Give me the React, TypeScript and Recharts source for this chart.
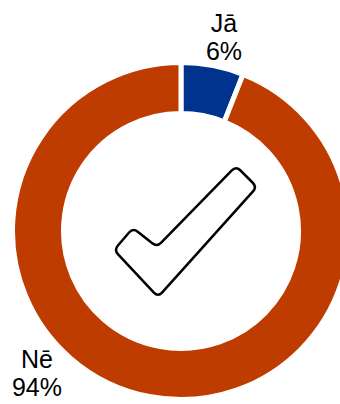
import { Cell, Customized, Pie, PieChart } from "recharts";

const answers = ["Jā", "Nē"];
const shares = [6, 94];
const sliceColors = ["#00338D", "#BF3C00"];

const data = answers.map((name, i) => ({ name, value: shares[i] }));

// label anchor offsets from the pie centre (first baseline)
const labelOffsets: Record<string, [number, number]> = {
  "Jā": [43, -199],
  "Nē": [-144, 137],
};

// checkmark outline, relative to the pie centre
const checkPoints: [number, number][] = [
  [55, -65],
  [76, -44],
  [-23, 66],
  [-67, 19],
  [-48, -3],
  [-24, 16],
];

function roundedPath(pts: [number, number][], r: number) {
  const n = pts.length;
  let d = "";
  for (let i = 0; i < n; i++) {
    const p = pts[i];
    const prev = pts[(i - 1 + n) % n];
    const next = pts[(i + 1) % n];
    const v1 = [prev[0] - p[0], prev[1] - p[1]];
    const v2 = [next[0] - p[0], next[1] - p[1]];
    const l1 = Math.hypot(v1[0], v1[1]);
    const l2 = Math.hypot(v2[0], v2[1]);
    const a = [p[0] + (v1[0] / l1) * r, p[1] + (v1[1] / l1) * r];
    const b = [p[0] + (v2[0] / l2) * r, p[1] + (v2[1] / l2) * r];
    d += `${i === 0 ? "M" : "L"}${a[0]},${a[1]} Q${p[0]},${p[1]} ${b[0]},${b[1]} `;
  }
  return d + "Z";
}

const CX = 181;
const CY = 231;

const CheckMark = () => (
  <g transform={`translate(${CX},${CY})`}>
    <path
      d={roundedPath(checkPoints, 6)}
      fill="#fff"
      stroke="#000"
      strokeWidth={2.5}
      strokeLinejoin="round"
    />
  </g>
);

const renderLabel = (props: any) => {
  const { cx, cy, name, percent } = props;
  const [dx, dy] = labelOffsets[name] ?? [0, 0];
  const x = cx + dx;
  const y = cy + dy;
  return (
    <text
      x={x}
      y={y}
      textAnchor="middle"
      fill="#000"
      fontSize={25}
      fontFamily="'Liberation Sans', Arial, sans-serif"
    >
      <tspan x={x} y={y}>{name}</tspan>
      <tspan x={x} y={y + 28}>{`${Math.round(percent * 100)}%`}</tspan>
    </text>
  );
};

export default function App() {
  return (
    <div style={{ position: "absolute", left: 0, top: 0, width: 340, height: 404, background: "#fff" }}>
      <PieChart width={340} height={404} margin={{ top: 0, right: 0, bottom: 0, left: 0 }}>
        <Pie
          data={data}
          dataKey="value"
          nameKey="name"
          cx={CX}
          cy={CY}
          innerRadius={117.5}
          outerRadius={168.5}
          startAngle={90}
          endAngle={-270}
          stroke="#fff"
          strokeWidth={5}
          label={renderLabel}
          labelLine={false}
          isAnimationActive={false}
        >
          {data.map((d, i) => (
            <Cell key={d.name} fill={sliceColors[i]} />
          ))}
        </Pie>
        <Customized component={<CheckMark />} />
      </PieChart>
    </div>
  );
}
